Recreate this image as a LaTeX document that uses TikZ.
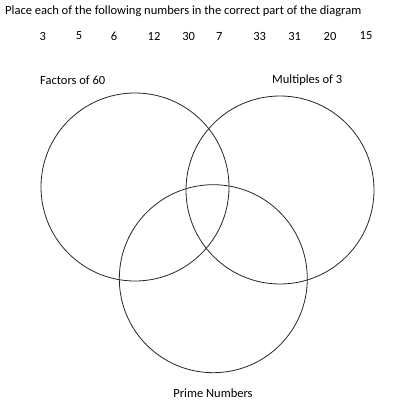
\documentclass[tikz,border=0pt]{standalone}
\usepackage{fontspec}
\setmainfont{Carlito}
\begin{document}
\begin{tikzpicture}[x=1pt,y=-1pt,
  lbl/.style={inner sep=0pt,font=\fontsize{12.5}{15}\selectfont},
  ring/.style={draw=black!85,line width=0.8pt}]
\useasboundingbox (0,0) rectangle (404,415);
\node[lbl,anchor=west] (title) at (5,11) {Place each of the following numbers in the correct part of the diagram};
\node[lbl] (n3) at (42.7,36) {3};
\node[lbl] (n5) at (79,36) {5};
\node[lbl] (n6) at (114,36) {6};
\node[lbl] (n12) at (154,36) {12};
\node[lbl] (n30) at (188.7,36) {30};
\node[lbl] (n7) at (219.3,36) {7};
\node[lbl] (n33) at (259.7,36) {33};
\node[lbl] (n31) at (294.7,36) {31};
\node[lbl] (n20) at (330,36) {20};
\node[lbl] (n15) at (366,36) {15};
\node[lbl,anchor=west] (fac) at (40,80) {Factors of 60};
\node[lbl,anchor=west] (mul) at (272,80) {Multiples of 3};
\node[lbl] (pri) at (213,393) {Prime Numbers};
\node[ring,circle,minimum size=188pt,inner sep=0pt] (cA) at (135,187) {};
\node[ring,circle,minimum size=188pt,inner sep=0pt] (cB) at (280,190) {};
\node[ring,circle,minimum size=188pt,inner sep=0pt] (cC) at (213.3,278.7) {};
\end{tikzpicture}
\end{document}
